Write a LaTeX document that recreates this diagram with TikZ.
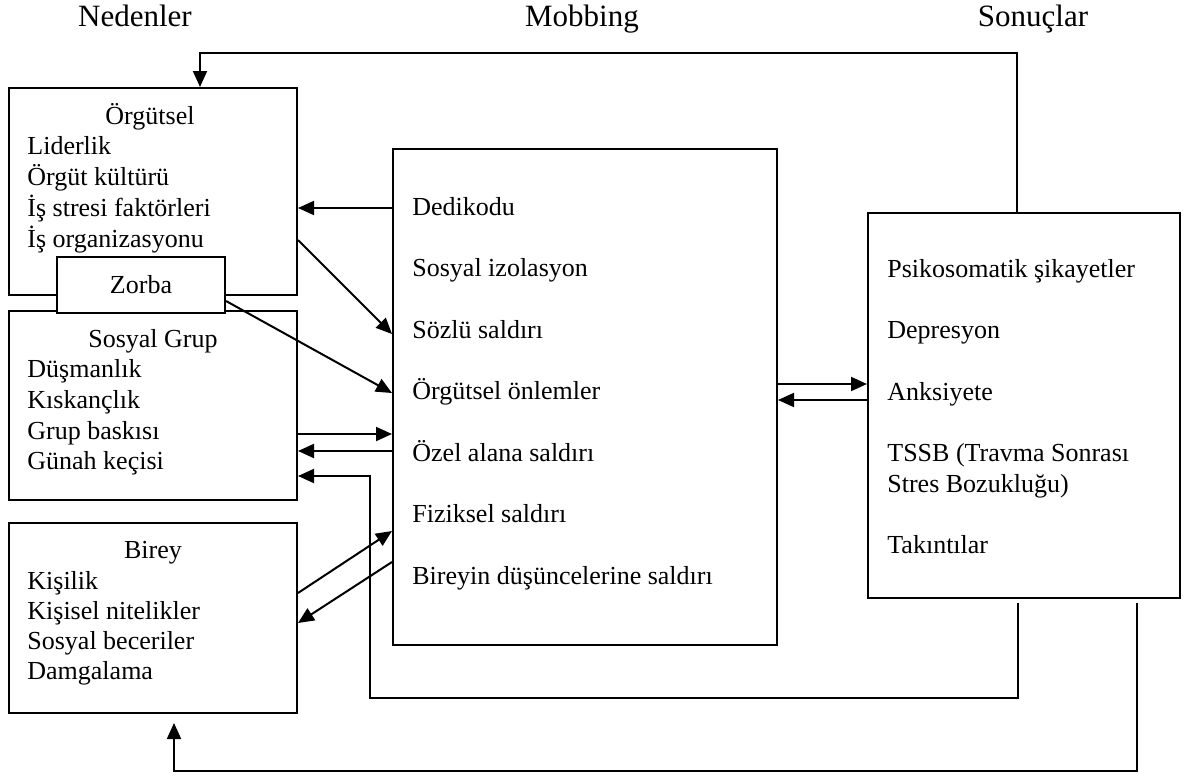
\documentclass[tikz,border=0pt]{standalone}
\usepackage{fontspec}
\setmainfont{Liberation Serif}
\usetikzlibrary{arrows.meta}

\tikzset{
  box/.style={draw, line width=1pt, fill=white, inner sep=0pt},
  head/.style={font=\fontsize{15.5}{18}\selectfont, anchor=base, inner sep=0pt},
  boxtitle/.style={font=\fontsize{13}{15.6}\selectfont, anchor=base, inner sep=0pt},
  item/.style={font=\fontsize{13}{15.6}\selectfont, anchor=base west, inner sep=0pt},
  arr/.style={line width=1pt, -{Triangle[length=8pt, width=7pt]}}
}

\begin{document}
\begin{tikzpicture}[x=0.5pt,y=-0.5pt]
\useasboundingbox (0,0) rectangle (1185,776);

% column heads
\node[head] (hneden) at (135,26) {Nedenler};
\node[head] (hmob) at (582,26) {Mobbing};
\node[head] (hson) at (1033,26) {Sonuçlar};

% boxes
\node[box, minimum width=144pt, minimum height=103.5pt] (org) at (153,191.5) {};
\node[box, minimum width=144pt, minimum height=94.5pt] (grup) at (153,405.5) {};
\node[box, minimum width=84pt, minimum height=28pt] (zorba) at (141,285) {};
\node[box, minimum width=144pt, minimum height=95pt] (birey) at (153,618) {};
\node[box, minimum width=192pt, minimum height=248pt] (mob) at (585,397) {};
\node[box, minimum width=156pt, minimum height=192.5pt] (son) at (1024,405.5) {};

% Örgütsel
\node[boxtitle] (torg) at (150,124) {Örgütsel};
\node[item] (o1) at (27,154) {Liderlik};
\node[item] (o2) at (27,185) {Örgüt kültürü};
\node[item] (o3) at (27,216) {İş stresi faktörleri};
\node[item] (o4) at (27,247) {İş organizasyonu};
\node[boxtitle] (tzorba) at (141,293) {Zorba};

% Sosyal Grup
\node[boxtitle] (tgrup) at (153,347) {Sosyal Grup};
\node[item] (g1) at (27,377) {Düşmanlık};
\node[item] (g2) at (27,408) {Kıskançlık};
\node[item] (g3) at (27,439) {Grup baskısı};
\node[item] (g4) at (27,469) {Günah keçisi};

% Birey
\node[boxtitle] (tbirey) at (153,558) {Birey};
\node[item] (b1) at (27,589) {Kişilik};
\node[item] (b2) at (27,619) {Kişisel nitelikler};
\node[item] (b3) at (27,649) {Sosyal beceriler};
\node[item] (b4) at (27,679) {Damgalama};

% Mobbing
\node[item] (m1) at (412,215) {Dedikodu};
\node[item] (m2) at (412,276.5) {Sosyal izolasyon};
\node[item] (m3) at (412,338) {Sözlü saldırı};
\node[item] (m4) at (412,399.5) {Örgütsel önlemler};
\node[item] (m5) at (412,461) {Özel alana saldırı};
\node[item] (m6) at (412,522.5) {Fiziksel saldırı};
\node[item] (m7) at (412,584) {Bireyin düşüncelerine saldırı};

% Sonuçlar
\node[item] (s1) at (887,277) {Psikosomatik şikayetler};
\node[item] (s2) at (887,338) {Depresyon};
\node[item] (s3) at (887,400) {Anksiyete};
\node[item] (s4) at (887,461) {TSSB (Travma Sonrası};
\node[item] (s5) at (887,492) {Stres Bozukluğu)};
\node[item] (s6) at (887,553) {Takıntılar};

% connectors
\coordinate (btip) at (174,723);
\coordinate (loop1) at (1018,603);
\coordinate (loop2) at (1137,603);
\draw[arr] (mob.west |- 0,208) -- (org.east |- 0,208);
\draw[arr] (org.east |- 0,240) -- (mob.west |- 0,334);
\draw[arr] (zorba.east |- 0,301) -- (mob.west |- 0,393);
\draw[arr] (grup.east |- 0,434) -- (mob.west |- 0,434);
\draw[arr] (mob.west |- 0,451) -- (grup.east |- 0,451);
\draw[arr] (birey.east |- 0,593) -- (mob.west |- 0,531);
\draw[arr] (mob.west |- 0,562) -- (birey.east |- 0,623);
\draw[arr] (mob.east |- 0,384) -- (son.west |- 0,384);
\draw[arr] (son.west |- 0,400) -- (mob.east |- 0,400);
\draw[arr] (son.north -| 1017,0) |- (200,53) -- (org.north -| 200,0);
\draw[arr] (loop1) |- (370,698) |- (grup.east |- 0,476);
\draw[arr] (loop2) |- (174,771) -- (btip);
\end{tikzpicture}
\end{document}
